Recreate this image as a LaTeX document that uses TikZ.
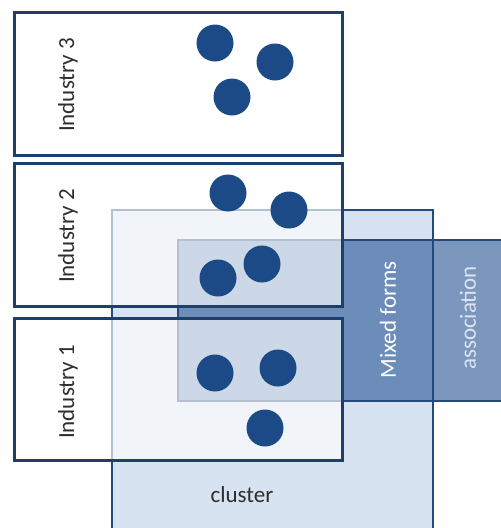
\documentclass[tikz,border=0pt]{standalone}
\usepackage{fontspec}
\setmainfont{Carlito}
\begin{document}
\begin{tikzpicture}[x=1pt,y=-1pt,
  every node/.style={inner sep=0pt, outer sep=0pt},
  industrybox/.style={draw=navyline, line width=3pt, fill=white, fill opacity=0.66, draw opacity=1, rectangle},
  clusterfill/.style={fill=clusterblue, rectangle},
  assocfill/.style={fill=assocblue, fill opacity=0.6, rectangle},
  areaborder/.style={draw=arealine, line width=2.5pt, rectangle},
  firm/.style={circle, fill=dotblue, minimum size=37pt},
  label/.style={font=\fontsize{23}{25}\selectfont, text=labelgray},
]
\definecolor{navyline}{HTML}{1F3F6B}
\definecolor{arealine}{HTML}{24497C}
\definecolor{clusterblue}{HTML}{D8E3F2}
\definecolor{assocblue}{HTML}{255294}
\definecolor{dotblue}{HTML}{1C4A86}
\definecolor{labelgray}{HTML}{2E2E2E}
\definecolor{assoctext}{HTML}{DCE5F2}

\useasboundingbox (0,0) rectangle (501,528);
\fill[white] (0,0) rectangle (501,528);

% cluster and association areas (fills first, borders on top)
\node[clusterfill, minimum width=321pt, minimum height=330pt] (cluster) at (272.5,375) {};
\node[assocfill, minimum width=342pt, minimum height=161pt] (assoc) at (349,320.5) {};
\node[areaborder, minimum width=321pt, minimum height=330pt] (clusterframe) at (272.5,375) {};
\node[areaborder, minimum width=342pt, minimum height=161pt] (assocframe) at (349,320.5) {};

% industries
\node[industrybox, minimum width=328pt, minimum height=143pt] (ind3) at (178,83.5) {};
\node[industrybox, minimum width=328pt, minimum height=143pt] (ind2) at (178,234.5) {};
\node[industrybox, minimum width=328pt, minimum height=142pt] (ind1) at (178,389) {};

% firms
\node[firm] (f31) at (215,43) {};
\node[firm] (f32) at (275,62) {};
\node[firm] (f33) at (232,97) {};
\node[firm] (f21) at (228,193) {};
\node[firm] (f22) at (289,210) {};
\node[firm] (f23) at (262,264) {};
\node[firm] (f24) at (218,278) {};
\node[firm] (f11) at (215,373) {};
\node[firm] (f12) at (278,368) {};
\node[firm] (f13) at (265,428) {};

% labels
\node[label, rotate=90] (l3) at (68,85) {Industry 3};
\node[label, rotate=90] (l2) at (68,236) {Industry 2};
\node[label, rotate=90] (l1) at (68,392) {Industry 1};
\node[label, rotate=90, text=white] (lmixed) at (388,320) {Mixed forms};
\node[label, rotate=90, text=assoctext] (lassoc) at (468,318) {association};
\node[label] (lcluster) at (242,495) {cluster};
\end{tikzpicture}
\end{document}
